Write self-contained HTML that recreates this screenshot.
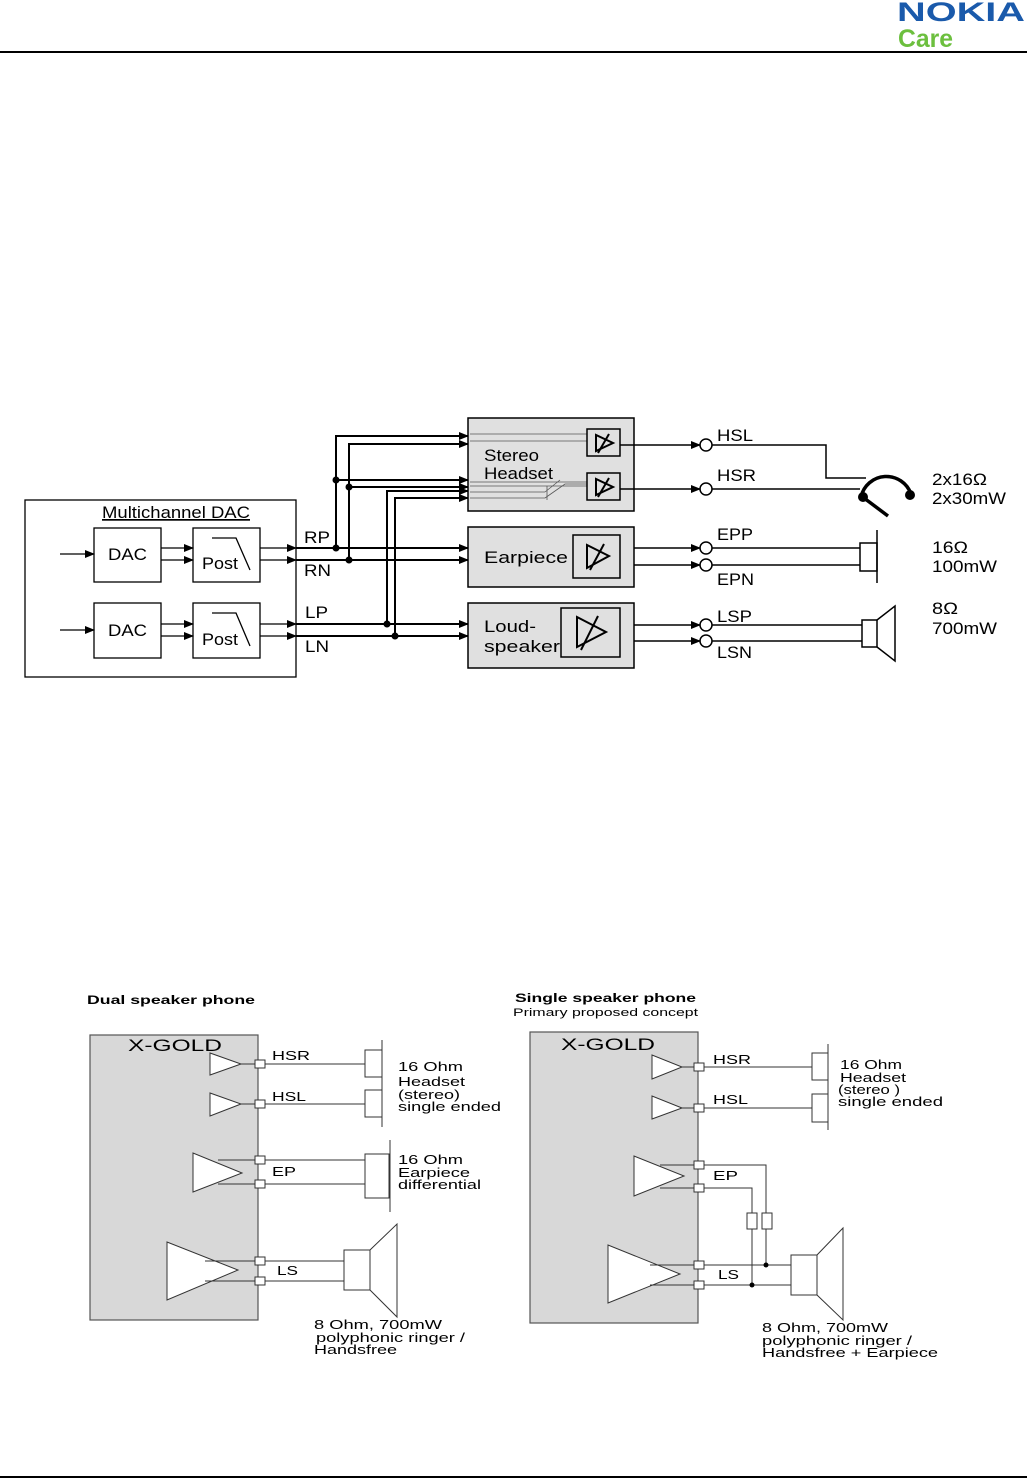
<!DOCTYPE html>
<html><head><meta charset="utf-8"><style>
html,body{margin:0;padding:0;background:#fff}
svg{display:block}
text{font-family:"Liberation Sans",Arial,sans-serif;fill:#000}
</style></head><body>
<svg width="1027" height="1479" viewBox="0 0 1027 1479" xmlns="http://www.w3.org/2000/svg">
<defs>
<marker id="ar" markerWidth="10" markerHeight="8" refX="9" refY="4" orient="auto" markerUnits="userSpaceOnUse"><path d="M0,0 L10,4 L0,8 z" fill="#000"/></marker>
</defs>
<!-- header -->
<text x="897" y="21" font-size="27" font-weight="bold" style="fill:#1a5aab" textLength="128" lengthAdjust="spacingAndGlyphs">NOKIA</text>
<text x="898" y="47" font-size="25" font-weight="bold" style="fill:#6cbf3e" textLength="55" lengthAdjust="spacingAndGlyphs">Care</text>
<rect x="0" y="51" width="1027" height="2" fill="#000"/>
<rect x="0" y="1476" width="1027" height="2" fill="#000"/>

<!-- TOP DIAGRAM -->
<g stroke="#000" fill="none" stroke-width="1.3">
<rect x="25" y="500" width="271" height="177"/>
<rect x="94" y="528" width="67" height="54"/>
<rect x="193" y="528" width="67" height="54"/>
<rect x="94" y="603" width="67" height="55"/>
<rect x="193" y="603" width="67" height="55"/>
<path d="M212,538 H236 L250,570"/>
<path d="M212,613 H236 L250,646"/>
<line x1="60" y1="554" x2="94" y2="554" marker-end="url(#ar)"/>
<line x1="60" y1="630" x2="94" y2="630" marker-end="url(#ar)"/>
<line x1="161" y1="548" x2="193" y2="548" marker-end="url(#ar)"/>
<line x1="161" y1="560" x2="193" y2="560" marker-end="url(#ar)"/>
<line x1="161" y1="624" x2="193" y2="624" marker-end="url(#ar)"/>
<line x1="161" y1="636" x2="193" y2="636" marker-end="url(#ar)"/>
<line x1="260" y1="548" x2="296" y2="548" marker-end="url(#ar)"/>
<line x1="260" y1="560" x2="296" y2="560" marker-end="url(#ar)"/>
<line x1="260" y1="624" x2="296" y2="624" marker-end="url(#ar)"/>
<line x1="260" y1="636" x2="296" y2="636" marker-end="url(#ar)"/>
</g>
<g stroke="#000" fill="none" stroke-width="2">
<line x1="296" y1="548" x2="468" y2="548" marker-end="url(#ar)"/>
<line x1="296" y1="560" x2="468" y2="560" marker-end="url(#ar)"/>
<line x1="296" y1="624" x2="468" y2="624" marker-end="url(#ar)"/>
<line x1="296" y1="636" x2="468" y2="636" marker-end="url(#ar)"/>
<path d="M336,548 V436 H468" marker-end="url(#ar)"/>
<path d="M349,560 V444 H468" marker-end="url(#ar)"/>
<line x1="336" y1="480" x2="468" y2="480" marker-end="url(#ar)"/>
<line x1="349" y1="487" x2="468" y2="487" marker-end="url(#ar)"/>
<path d="M387,624 V491 H468" marker-end="url(#ar)"/>
<path d="M395,636 V498 H468" marker-end="url(#ar)"/>
</g>
<g fill="#000">
<circle cx="336" cy="548" r="3.5"/><circle cx="349" cy="560" r="3.5"/>
<circle cx="336" cy="480" r="3.5"/><circle cx="349" cy="487" r="3.5"/>
<circle cx="387" cy="624" r="3.5"/><circle cx="395" cy="636" r="3.5"/>
</g>
<g stroke="#000" stroke-width="1.5" fill="#e0e0e0">
<rect x="468" y="418" width="166" height="93"/>
<rect x="468" y="527" width="166" height="60"/>
<rect x="468" y="603" width="166" height="65"/>
</g>
<g stroke="#555" stroke-width="0.8" fill="none">
<line x1="470" y1="434" x2="587" y2="434"/><line x1="470" y1="441" x2="587" y2="441"/>
<line x1="470" y1="482" x2="587" y2="482"/><line x1="470" y1="486" x2="587" y2="486"/>
<line x1="470" y1="492" x2="545" y2="492"/><line x1="470" y1="498" x2="545" y2="498"/>
<path d="M545,498 L565,484 H587"/><path d="M545,492 L560,480"/><line x1="547" y1="486" x2="547" y2="500"/>
</g>
<g stroke="#000" stroke-width="1.5" fill="#e0e0e0">
<rect x="587" y="429" width="33" height="27"/>
<rect x="587" y="473" width="33" height="27"/>
<rect x="573" y="535" width="47" height="43"/>
<rect x="561" y="608" width="59" height="49"/>
</g>
<g stroke="#000" stroke-width="2" fill="none">
<path d="M596,435 V451 L613,443 Z"/><line x1="598" y1="453" x2="609" y2="434"/>
<path d="M596,479 V495 L613,487 Z"/><line x1="598" y1="497" x2="609" y2="478"/>
<path d="M587,545 V568 L609,556 Z"/><line x1="590" y1="570" x2="604" y2="544"/>
<path d="M577,617 V647 L606,632 Z"/><line x1="581" y1="650" x2="598" y2="616"/>
</g>
<g font-size="17">
<text x="484" y="461" textLength="55" lengthAdjust="spacingAndGlyphs">Stereo</text><text x="484" y="479" textLength="69" lengthAdjust="spacingAndGlyphs">Headset</text>
<text x="484" y="563" textLength="84" lengthAdjust="spacingAndGlyphs">Earpiece</text>
<text x="484" y="632" textLength="52" lengthAdjust="spacingAndGlyphs">Loud-</text><text x="484" y="652" textLength="76" lengthAdjust="spacingAndGlyphs">speaker</text>
<text x="102" y="518" textLength="148" lengthAdjust="spacingAndGlyphs" text-decoration="underline">Multichannel DAC</text>
<text x="108" y="560" textLength="39" lengthAdjust="spacingAndGlyphs">DAC</text><text x="108" y="636" textLength="39" lengthAdjust="spacingAndGlyphs">DAC</text>
<text x="202" y="569" textLength="36" lengthAdjust="spacingAndGlyphs">Post</text><text x="202" y="645" textLength="36" lengthAdjust="spacingAndGlyphs">Post</text>
<text x="304" y="543" textLength="26" lengthAdjust="spacingAndGlyphs">RP</text><text x="304" y="576" textLength="27" lengthAdjust="spacingAndGlyphs">RN</text>
<text x="305" y="618" textLength="23" lengthAdjust="spacingAndGlyphs">LP</text><text x="305" y="652" textLength="24" lengthAdjust="spacingAndGlyphs">LN</text>
<text x="717" y="441" textLength="36" lengthAdjust="spacingAndGlyphs">HSL</text><text x="717" y="481" textLength="39" lengthAdjust="spacingAndGlyphs">HSR</text>
<text x="717" y="540" textLength="36" lengthAdjust="spacingAndGlyphs">EPP</text><text x="717" y="585" textLength="37" lengthAdjust="spacingAndGlyphs">EPN</text>
<text x="717" y="622" textLength="35" lengthAdjust="spacingAndGlyphs">LSP</text><text x="717" y="658" textLength="35" lengthAdjust="spacingAndGlyphs">LSN</text>
<text x="932" y="485" textLength="55" lengthAdjust="spacingAndGlyphs">2x16Ω</text><text x="932" y="504" textLength="74" lengthAdjust="spacingAndGlyphs">2x30mW</text>
<text x="932" y="553" textLength="36" lengthAdjust="spacingAndGlyphs">16Ω</text><text x="932" y="572" textLength="65" lengthAdjust="spacingAndGlyphs">100mW</text>
<text x="932" y="614" textLength="26" lengthAdjust="spacingAndGlyphs">8Ω</text><text x="932" y="634" textLength="65" lengthAdjust="spacingAndGlyphs">700mW</text>
</g>
<g stroke="#000" stroke-width="1.5" fill="none">
<line x1="620" y1="445" x2="700" y2="445" marker-end="url(#ar)"/>
<line x1="620" y1="489" x2="700" y2="489" marker-end="url(#ar)"/>
<line x1="634" y1="548" x2="700" y2="548" marker-end="url(#ar)"/>
<line x1="634" y1="565" x2="700" y2="565" marker-end="url(#ar)"/>
<line x1="634" y1="625" x2="700" y2="625" marker-end="url(#ar)"/>
<line x1="634" y1="641" x2="700" y2="641" marker-end="url(#ar)"/>
<circle cx="706" cy="445" r="6"/><circle cx="706" cy="489" r="6"/>
<circle cx="706" cy="548" r="6"/><circle cx="706" cy="565" r="6"/>
<circle cx="706" cy="625" r="6"/><circle cx="706" cy="641" r="6"/>
<path d="M712,445 H826 V478 H866"/>
<line x1="712" y1="489" x2="860" y2="489"/>
<line x1="712" y1="548" x2="860" y2="548"/><line x1="712" y1="565" x2="860" y2="565"/>
<line x1="712" y1="625" x2="862" y2="625"/><line x1="712" y1="641" x2="862" y2="641"/>
<rect x="860" y="543" width="17" height="28"/>
<line x1="877" y1="530" x2="877" y2="583"/>
<rect x="862" y="620" width="15" height="27"/>
<path d="M877,620 L895,606 V661 L877,647"/>
</g>
<g stroke="#000" stroke-width="3.5" fill="none">
<path d="M861,497 A26,26 0 0 1 911,494"/>
<line x1="864" y1="498" x2="888" y2="516"/>
</g>
<circle cx="863" cy="497" r="5" fill="#000"/><circle cx="910" cy="495" r="5" fill="#000"/>

<!-- BOTTOM LEFT -->
<text x="87" y="1004" font-size="12" font-weight="bold" textLength="168" lengthAdjust="spacingAndGlyphs">Dual speaker phone</text>
<rect x="90" y="1035" width="168" height="285" fill="#d8d8d8" stroke="#555" stroke-width="1.2"/>
<text x="128" y="1051" font-size="17" textLength="94" lengthAdjust="spacingAndGlyphs">X-GOLD</text>
<g stroke="#333" stroke-width="1" fill="#fff">
<path d="M210,1053 V1075 L241,1064 Z"/>
<path d="M210,1093 V1116 L241,1104 Z"/>
<path d="M193,1153 V1192 L242,1173 Z"/>
<path d="M167,1242 V1300 L238,1270 Z"/>
<g fill="none">
<line x1="241" y1="1064" x2="365" y2="1064"/><line x1="241" y1="1104" x2="365" y2="1104"/>
<line x1="218" y1="1160" x2="365" y2="1160"/><line x1="218" y1="1184" x2="365" y2="1184"/>
<line x1="205" y1="1261" x2="344" y2="1261"/><line x1="205" y1="1281" x2="344" y2="1281"/>
<rect x="365" y="1050" width="17" height="27"/><rect x="365" y="1090" width="17" height="27"/>
<line x1="382" y1="1040" x2="382" y2="1127"/>
<rect x="365" y="1154" width="24" height="44"/><line x1="390" y1="1140" x2="390" y2="1212"/>
<rect x="344" y="1250" width="26" height="40"/>
<path d="M370,1250 L397,1224 V1317 L370,1290"/>
</g>
<rect x="255" y="1060" width="10" height="8"/><rect x="255" y="1100" width="10" height="8"/>
<rect x="255" y="1156" width="10" height="8"/><rect x="255" y="1180" width="10" height="8"/>
<rect x="255" y="1257" width="10" height="8"/><rect x="255" y="1277" width="10" height="8"/>
</g>
<g font-size="13">
<text x="272" y="1060" textLength="38" lengthAdjust="spacingAndGlyphs">HSR</text><text x="272" y="1101" textLength="34" lengthAdjust="spacingAndGlyphs">HSL</text>
<text x="272" y="1176" textLength="24" lengthAdjust="spacingAndGlyphs">EP</text><text x="277" y="1275" textLength="21" lengthAdjust="spacingAndGlyphs">LS</text>
<text x="398" y="1071" textLength="65" lengthAdjust="spacingAndGlyphs">16 Ohm</text><text x="398" y="1086" textLength="67" lengthAdjust="spacingAndGlyphs">Headset</text><text x="398" y="1099" textLength="62" lengthAdjust="spacingAndGlyphs">(stereo)</text><text x="398" y="1111" textLength="103" lengthAdjust="spacingAndGlyphs">single ended</text>
<text x="398" y="1164" textLength="65" lengthAdjust="spacingAndGlyphs">16 Ohm</text><text x="398" y="1177" textLength="72" lengthAdjust="spacingAndGlyphs">Earpiece</text><text x="398" y="1189" textLength="83" lengthAdjust="spacingAndGlyphs">differential</text>
<text x="314" y="1329" textLength="128" lengthAdjust="spacingAndGlyphs">8 Ohm, 700mW</text><text x="316" y="1342" textLength="149" lengthAdjust="spacingAndGlyphs">polyphonic ringer /</text><text x="314" y="1354" textLength="83" lengthAdjust="spacingAndGlyphs">Handsfree</text>
</g>

<!-- BOTTOM RIGHT -->
<text x="515" y="1002" font-size="12" font-weight="bold" textLength="181" lengthAdjust="spacingAndGlyphs">Single speaker phone</text>
<text x="513" y="1016" font-size="11" textLength="185" lengthAdjust="spacingAndGlyphs">Primary proposed concept</text>
<rect x="530" y="1032" width="168" height="291" fill="#d8d8d8" stroke="#555" stroke-width="1.2"/>
<text x="561" y="1050" font-size="17" textLength="94" lengthAdjust="spacingAndGlyphs">X-GOLD</text>
<g stroke="#333" stroke-width="1" fill="#fff">
<path d="M652,1055 V1079 L682,1067 Z"/>
<path d="M652,1096 V1119 L682,1108 Z"/>
<path d="M634,1156 V1196 L684,1176 Z"/>
<path d="M608,1245 V1303 L680,1274 Z"/>
<g fill="none">
<line x1="682" y1="1067" x2="812" y2="1067"/><line x1="682" y1="1108" x2="812" y2="1108"/>
<rect x="812" y="1053" width="16" height="27"/><rect x="812" y="1094" width="16" height="28"/>
<line x1="828" y1="1044" x2="828" y2="1130"/>
<path d="M660,1165 H766 V1265"/><path d="M660,1188 H752 V1285"/>
<line x1="650" y1="1265" x2="791" y2="1265"/><line x1="650" y1="1285" x2="791" y2="1285"/>
<rect x="791" y="1255" width="26" height="40"/>
<path d="M817,1255 L843,1228 V1320 L817,1295"/>
</g>
<rect x="747" y="1213" width="10" height="16"/><rect x="762" y="1213" width="10" height="16"/>
<rect x="694" y="1063" width="10" height="8"/><rect x="694" y="1104" width="10" height="8"/>
<rect x="694" y="1161" width="10" height="8"/><rect x="694" y="1184" width="10" height="8"/>
<rect x="694" y="1261" width="10" height="8"/><rect x="694" y="1281" width="10" height="8"/>
</g>
<circle cx="766" cy="1265" r="2.5" fill="#000"/><circle cx="752" cy="1285" r="2.5" fill="#000"/>
<g font-size="13">
<text x="713" y="1064" textLength="38" lengthAdjust="spacingAndGlyphs">HSR</text><text x="713" y="1104" textLength="35" lengthAdjust="spacingAndGlyphs">HSL</text>
<text x="713" y="1180" textLength="25" lengthAdjust="spacingAndGlyphs">EP</text><text x="718" y="1279" textLength="21" lengthAdjust="spacingAndGlyphs">LS</text>
<text x="840" y="1069" textLength="62" lengthAdjust="spacingAndGlyphs">16 Ohm</text><text x="840" y="1082" textLength="66" lengthAdjust="spacingAndGlyphs">Headset</text><text x="838" y="1094" textLength="62" lengthAdjust="spacingAndGlyphs">(stereo )</text><text x="838" y="1106" textLength="105" lengthAdjust="spacingAndGlyphs">single ended</text>
<text x="762" y="1332" textLength="126" lengthAdjust="spacingAndGlyphs">8 Ohm, 700mW</text><text x="762" y="1345" textLength="150" lengthAdjust="spacingAndGlyphs">polyphonic ringer /</text><text x="762" y="1357" textLength="176" lengthAdjust="spacingAndGlyphs">Handsfree + Earpiece</text>
</g>
</svg>
</body></html>
